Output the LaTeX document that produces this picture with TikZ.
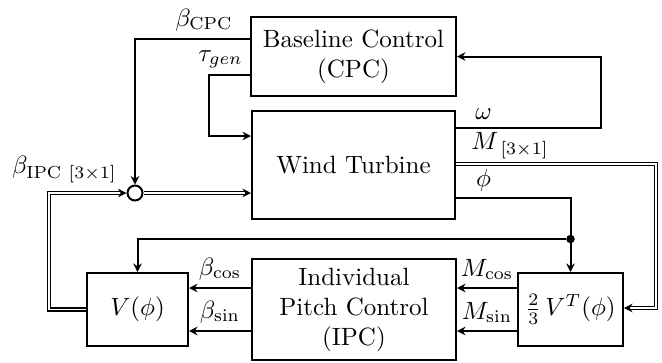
\documentclass[tikz,border=0pt]{standalone}
\usepackage{amsmath}
\usepackage{amssymb}
\usetikzlibrary{calc, positioning}
\usetikzlibrary{arrows.meta}

\tikzset{
  block/.style={draw, thick, align=center, inner sep=2pt},
  sig/.style={-{Stealth[length=3.4pt,width=3.4pt]}, thick},
  bus/.style={-{Stealth[length=3.4pt,width=3.4pt]}, line width=0.6pt, double, double distance=0.7pt},
  sumnode/.style={draw, thick, circle, inner sep=0pt, minimum size=6pt},
  dotnode/.style={circle, fill, inner sep=0pt, minimum size=3.4pt},
}

\begin{document}
\begin{tikzpicture}[x=0.4pt,y=-0.4pt]
\useasboundingbox (0,0) rectangle (662,362);

\node[block, minimum width=82pt, minimum height=31.6pt] (cpc) at (353.5,56.5) {Baseline Control\\(CPC)};
\node[block, minimum width=81.2pt, minimum height=43.2pt] (wt) at (353.5,165) {Wind Turbine};
\node[block, minimum width=81.6pt, minimum height=40.4pt] (ipc) at (354,309.5) {Individual\\Pitch Control\\(IPC)};
\node[block, minimum width=40.4pt, minimum height=29.2pt] (vphi) at (137.5,309.5) {$V(\phi)$};
\node[block, minimum width=42pt, minimum height=29.2pt] (vt) at (570.5,309.5) {$\frac{2}{3}\,V^T(\phi)$};
\node[sumnode] (sum) at (135,193) {};
\node[dotnode] (jn) at (570.5,239) {};

% baseline controller outputs
\draw[sig] ($(cpc.west)+(0,-17.5)$) -| node[pos=0.2, above=-0.5pt] {$\beta_{\mathrm{CPC}}$} (sum.north);
\draw[sig] ($(cpc.west)+(0,18.5)$) -- node[pos=0.72, above=-1pt] {$\tau_{gen}$} ++(-41,0) |- ($(wt.west)+(0,-29)$);

% turbine outputs
\draw[sig] ($(wt.east)+(0,-37)$) -- node[pos=0.19, above=-0.5pt] {$\omega$} ++(145,0) |- (cpc.east);
\draw[bus] ($(wt.east)+(0,-1)$) -- node[pos=0.27, above=-1.5pt] {$M_{\kern2pt[3\times 1]}$} ++(200,0) |- ($(vt.east)+(0,-1.5)$);
\draw[sig] ($(wt.east)+(0,33)$) -| node[pos=0.12, above=-1pt] {$\phi$} (vt.north);
\draw[sig] (jn) -| (vphi.north);

% IPC loop
\draw[sig] ($(vt.west)+(0,-21.5)$) -- node[above=-0.5pt] {$M_{\cos}$} ($(ipc.east)+(0,-21.5)$);
\draw[sig] ($(vt.west)+(0,21.5)$) -- node[above=-0.5pt] {$M_{\sin}$} ($(ipc.east)+(0,21.5)$);
\draw[sig] ($(ipc.west)+(0,-21.5)$) -- node[above=-0.5pt] {$\beta_{\cos}$} ($(vphi.east)+(0,-21.5)$);
\draw[sig] ($(ipc.west)+(0,21.5)$) -- node[above=-0.5pt] {$\beta_{\sin}$} ($(vphi.east)+(0,21.5)$);

% pitch demand
\draw[bus] (vphi.west) -- ++(-37,0) |- node[pos=0.6, above=0.5pt] {$\beta_{\mathrm{IPC}\kern3pt[3\times 1]}$} (sum.west);
\draw[bus] (sum.east) -- (sum.east -| wt.west);
\end{tikzpicture}
\end{document}
